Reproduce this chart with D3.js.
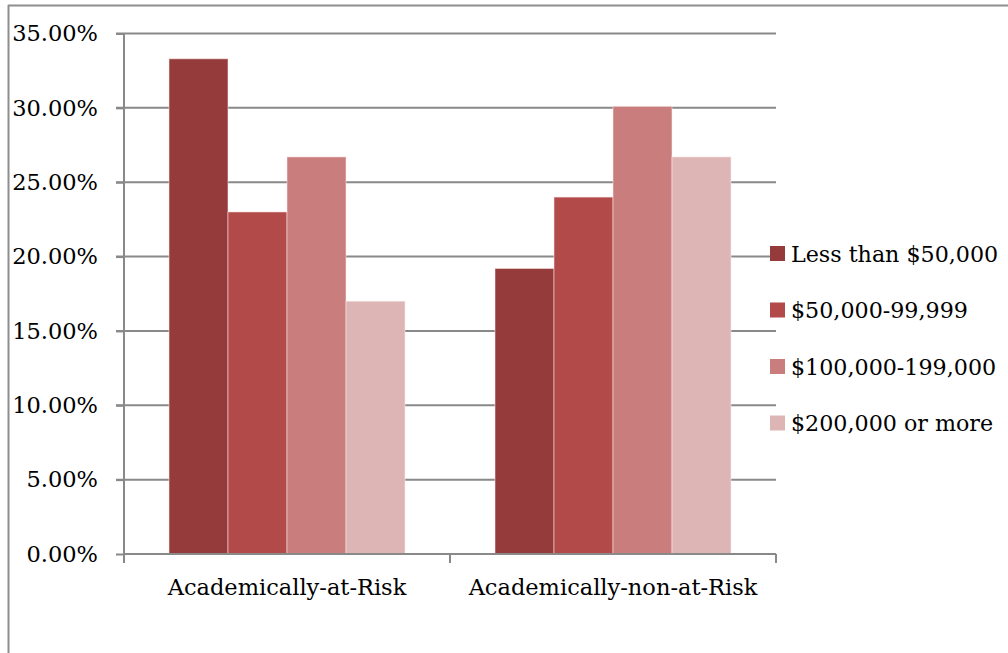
<!DOCTYPE html>
<html>
<head>
<meta charset="utf-8">
<script src="https://cdn.jsdelivr.net/npm/d3@7"></script>
<style>
  html, body { margin: 0; padding: 0; background: #fff; }
  svg { display: block; }
  text { font-family: "DejaVu Serif", serif; fill: #000; }
</style>
</head>
<body>
<svg id="chart" width="1008" height="653"></svg>
<script>
const categories = ["Academically-at-Risk", "Academically-non-at-Risk"];
const seriesNames = ["Less than $50,000", "$50,000-99,999", "$100,000-199,000", "$200,000 or more"];
const seriesLessThan50k = [0.333, 0.192];
const series50kTo99k = [0.230, 0.240];
const series100kTo199k = [0.267, 0.301];
const series200kPlus = [0.170, 0.267];
const seriesColors = ["#953b3b", "#b14a48", "#c97d7c", "#deb5b5"];
const yTicks = [0, 0.05, 0.10, 0.15, 0.20, 0.25, 0.30, 0.35];

const seriesValues = [seriesLessThan50k, series50kTo99k, series100kTo199k, series200kPlus];

const svg = d3.select("#chart");
const fontSize = 22.5;
const gridColor = "#898989";

const plotLeft = 124, plotRight = 776, plotTop = 33.5, plotBottom = 554;

const y = d3.scaleLinear().domain([0, 0.35]).range([plotBottom, plotTop]);
const x0 = d3.scaleBand().domain(categories).range([plotLeft, plotRight]).paddingInner(0).paddingOuter(0);
const x1 = d3.scaleBand().domain(seriesNames).range([0, x0.bandwidth()]).paddingInner(0).paddingOuter(0.7627);

// Outer frame
svg.append("line").attr("x1", 8).attr("x2", 1008).attr("y1", 5.5).attr("y2", 5.5)
  .attr("stroke", "#8e8e8e").attr("stroke-width", 2);
svg.append("line").attr("x1", 8.5).attr("x2", 8.5).attr("y1", 5).attr("y2", 653)
  .attr("stroke", "#8e8e8e").attr("stroke-width", 2);

// Gridlines (with left tick stubs)
svg.append("g").selectAll("line").data(yTicks.slice(1)).join("line")
  .attr("x1", plotLeft - 8).attr("x2", plotRight)
  .attr("y1", d => y(d)).attr("y2", d => y(d))
  .attr("stroke", gridColor).attr("stroke-width", 2);

// Bars
const groups = svg.append("g").selectAll("g").data(categories).join("g")
  .attr("transform", c => `translate(${x0(c)},0)`);
groups.selectAll("rect")
  .data((c, ci) => seriesNames.map((s, si) => ({ s, si, v: seriesValues[si][ci] })))
  .join("rect")
  .attr("x", d => x1(d.s))
  .attr("width", x1.bandwidth())
  .attr("y", d => y(d.v))
  .attr("height", d => y(0) - y(d.v))
  .attr("fill", d => seriesColors[d.si])
  .attr("stroke", "rgba(255,235,235,0.55)")
  .attr("stroke-width", 1);

// Y axis
const yAxis = d3.axisLeft(y).tickValues(yTicks).tickFormat(d3.format(".2%")).tickSize(8).tickPadding(18);
const yg = svg.append("g").attr("transform", `translate(${plotLeft},0)`).call(yAxis);
yg.select(".domain").remove();
yg.selectAll(".tick line").attr("stroke", gridColor).attr("stroke-width", 2);
yg.selectAll(".tick text").attr("font-family", "DejaVu Serif").attr("font-size", fontSize).attr("fill", "#000");
svg.append("line").attr("x1", plotLeft).attr("x2", plotLeft).attr("y1", plotTop).attr("y2", plotBottom + 9)
  .attr("stroke", gridColor).attr("stroke-width", 2);

// X axis
svg.append("line").attr("x1", plotLeft).attr("x2", plotRight).attr("y1", plotBottom).attr("y2", plotBottom)
  .attr("stroke", gridColor).attr("stroke-width", 2);
const xTickPositions = categories.map(c => x0(c) + x0.bandwidth());
svg.append("g").selectAll("line").data(xTickPositions).join("line")
  .attr("x1", d => d).attr("x2", d => d).attr("y1", plotBottom).attr("y2", plotBottom + 9)
  .attr("stroke", gridColor).attr("stroke-width", 2);
svg.append("g").selectAll("text").data(categories).join("text")
  .attr("x", c => x0(c) + x0.bandwidth() / 2)
  .attr("y", 595)
  .attr("text-anchor", "middle")
  .attr("font-size", fontSize)
  .text(c => c);

// Legend
const legend = svg.append("g").selectAll("g").data(seriesNames).join("g")
  .attr("transform", (s, i) => `translate(770,${246 + i * 56.5})`);
legend.append("rect").attr("width", 15).attr("height", 15)
  .attr("fill", (s, i) => seriesColors[i]);
legend.append("text").attr("x", 21).attr("y", 15.5)
  .attr("font-size", 22.2).text(s => s);
</script>
</body>
</html>
